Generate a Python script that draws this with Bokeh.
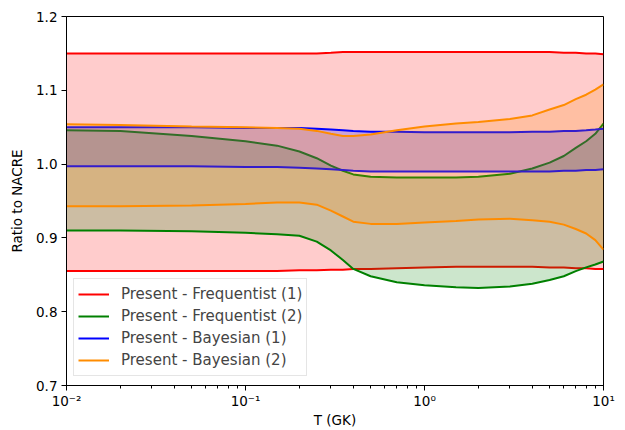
from bokeh.plotting import figure
from bokeh.models import (FixedTicker, PrintfTickFormatter, CustomJSTickFormatter,
                          LogTicker, Legend)
from bokeh.embed import file_html
from bokeh.resources import INLINE

# Temperature grid (GK)
T = [0.01, 0.02, 0.05, 0.1, 0.15, 0.2, 0.25, 0.3, 0.35, 0.4, 0.5, 0.7,
     1.0, 1.5, 2.0, 3.0, 4.0, 5.0, 6.0, 7.0, 8.0, 9.0, 10.0]

# Ratio-to-NACRE bands (lower / upper limits)
freq1_lo = [0.855, 0.855, 0.855, 0.855, 0.855, 0.856, 0.856, 0.857, 0.857, 0.858, 0.858, 0.859,
            0.860, 0.861, 0.861, 0.861, 0.861, 0.860, 0.860, 0.859, 0.859, 0.858, 0.858]
freq1_hi = [1.150, 1.150, 1.150, 1.150, 1.150, 1.150, 1.150, 1.151, 1.152, 1.152, 1.152, 1.152,
            1.152, 1.152, 1.152, 1.152, 1.152, 1.152, 1.151, 1.151, 1.150, 1.150, 1.149]

freq2_lo = [0.910, 0.910, 0.909, 0.907, 0.905, 0.903, 0.895, 0.883, 0.870, 0.858, 0.848, 0.840,
            0.836, 0.833, 0.832, 0.834, 0.838, 0.843, 0.848, 0.855, 0.860, 0.864, 0.868]
freq2_hi = [1.046, 1.045, 1.038, 1.031, 1.025, 1.017, 1.008, 0.998, 0.991, 0.986, 0.983, 0.982,
            0.982, 0.982, 0.983, 0.987, 0.994, 1.002, 1.011, 1.022, 1.031, 1.041, 1.055]

bayes1_lo = [0.997, 0.997, 0.997, 0.996, 0.996, 0.995, 0.994, 0.993, 0.992, 0.991, 0.990, 0.990,
             0.990, 0.990, 0.990, 0.990, 0.990, 0.990, 0.991, 0.991, 0.992, 0.992, 0.993]
bayes1_hi = [1.050, 1.050, 1.050, 1.049, 1.049, 1.049, 1.048, 1.047, 1.046, 1.045, 1.044, 1.044,
             1.043, 1.043, 1.043, 1.043, 1.044, 1.044, 1.045, 1.045, 1.046, 1.047, 1.048]

bayes2_lo = [0.943, 0.943, 0.944, 0.946, 0.948, 0.948, 0.945, 0.937, 0.929, 0.922, 0.919, 0.919,
             0.921, 0.923, 0.925, 0.926, 0.924, 0.922, 0.918, 0.912, 0.906, 0.897, 0.884]
bayes2_hi = [1.054, 1.053, 1.051, 1.050, 1.049, 1.048, 1.045, 1.041, 1.038, 1.038, 1.040, 1.046,
             1.051, 1.055, 1.057, 1.061, 1.066, 1.074, 1.080, 1.088, 1.094, 1.101, 1.108]

series = [
    ("Present - Frequentist (1)", freq1_lo, freq1_hi, "red"),
    ("Present - Frequentist (2)", freq2_lo, freq2_hi, "green"),
    ("Present - Bayesian (1)", bayes1_lo, bayes1_hi, "blue"),
    ("Present - Bayesian (2)", bayes2_lo, bayes2_hi, "darkorange"),
]

y_ticks = [0.7, 0.8, 0.9, 1.0, 1.1, 1.2]

FONT = "DejaVu Sans"
FS = "13.5px"

p = figure(width=625, height=430, x_axis_type="log",
           x_range=(0.01, 10), y_range=(0.7, 1.2),
           output_backend="svg", toolbar_location=None,
           min_border_left=66, min_border_right=22,
           min_border_top=16, min_border_bottom=44)
p.background_fill_color = "white"
p.border_fill_color = "white"
p.outline_line_color = "black"
p.outline_line_width = 1
p.xgrid.visible = False
p.ygrid.visible = False

legend_items = []
for label, lo, hi, color in series:
    p.varea(x=T, y1=lo, y2=hi, fill_color=color, fill_alpha=0.2)
    r1 = p.line(T, hi, line_color=color, line_width=2)
    p.line(T, lo, line_color=color, line_width=2)
    legend_items.append((label, [r1]))

# axes
p.xaxis.ticker = LogTicker(num_minor_ticks=10)
p.xaxis.formatter = CustomJSTickFormatter(code="""
    const sup = {"-": "\u207b", "0": "\u2070", "1": "\u00b9", "2": "\u00b2", "3": "\u00b3",
                 "4": "\u2074", "5": "\u2075", "6": "\u2076", "7": "\u2077", "8": "\u2078", "9": "\u2079"};
    const e = Math.round(Math.log10(tick));
    return "10" + String(e).split("").map(c => sup[c]).join("");
""")
p.yaxis.ticker = FixedTicker(ticks=y_ticks)
p.yaxis.formatter = PrintfTickFormatter(format="%.1f")

p.xaxis.axis_label = "T (GK)"
p.yaxis.axis_label = "Ratio to NACRE"
for ax in (p.xaxis, p.yaxis):
    ax.axis_line_color = "black"
    ax.major_tick_line_color = "black"
    ax.major_tick_in = 0
    ax.major_tick_out = 5
    ax.minor_tick_in = 0
    ax.minor_tick_out = 3
    ax.major_label_text_font = FONT
    ax.major_label_text_font_size = FS
    ax.major_label_text_color = "black"
    ax.axis_label_text_font = FONT
    ax.axis_label_text_font_size = FS
    ax.axis_label_text_font_style = "normal"
    ax.axis_label_text_color = "black"
    ax.major_label_standoff = 4
p.yaxis.minor_tick_line_color = None
p.xaxis.minor_tick_line_color = "black"
p.xaxis.major_label_standoff = 2
p.xaxis.axis_label_standoff = 0
p.yaxis.axis_label_standoff = 8

legend = Legend(items=legend_items, location=(7, 9),
                label_text_font=FONT, label_text_font_size="15px",
                glyph_width=31, glyph_height=22, label_height=22,
                label_standoff=12, spacing=0, padding=4, margin=0,
                border_line_color="#cccccc", border_line_width=1,
                background_fill_color="white", background_fill_alpha=0.8)
p.add_layout(legend)

open("out.html", "w").write(file_html(p, INLINE))
